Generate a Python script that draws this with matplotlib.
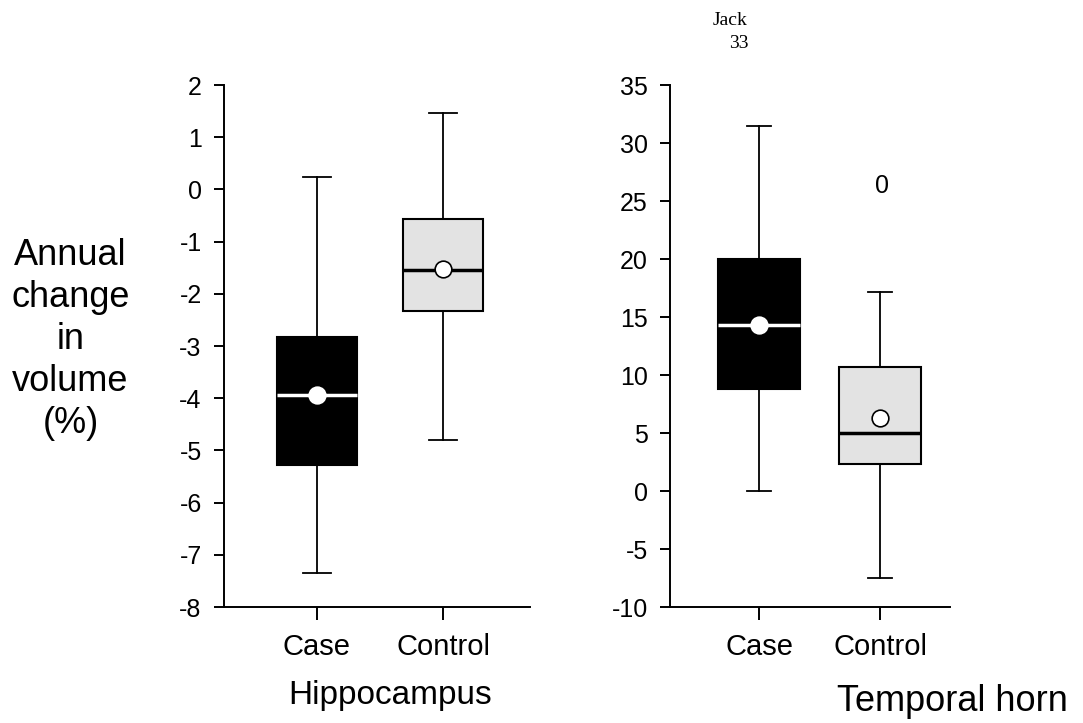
import matplotlib.pyplot as plt

plt.rcParams['font.family'] = ['Liberation Sans', 'DejaVu Sans']
plt.rcParams['axes.unicode_minus'] = False

# ---------------- data ----------------
groups = ['Case', 'Control']

# Hippocampus (annual change in volume, %)
hip_low = [-7.35, -4.8]
hip_q1 = [-5.27, -2.33]
hip_med = [-3.93, -1.55]
hip_q3 = [-2.83, -0.57]
hip_high = [0.23, 1.47]
hip_mean = [-3.93, -1.52]

# Temporal horn
th_low = [0.0, -7.5]
th_q1 = [8.8, 2.3]
th_med = [14.3, 5.0]
th_q3 = [20.0, 10.7]
th_high = [31.5, 17.2]
th_mean = [14.3, 6.3]
th_outlier_label = '0'
th_outlier_value = 26.3

box_colors = ['black', '#e3e3e3']
median_colors = ['white', 'black']


def make_stats(low, q1, med, q3, high, mean):
    stats = []
    for i in range(len(groups)):
        stats.append(dict(whislo=low[i], q1=q1[i], med=med[i], q3=q3[i],
                          whishi=high[i], mean=mean[i], fliers=[], label=groups[i]))
    return stats


def draw(ax, stats, width, capw):
    bp = ax.bxp(stats, positions=[1, 2], widths=width, patch_artist=True,
                showmeans=True, showfliers=False, capwidths=capw,
                boxprops=dict(linewidth=1.5, edgecolor='black'),
                whiskerprops=dict(linewidth=1.3),
                capprops=dict(linewidth=1.3),
                meanprops=dict(marker='o', markerfacecolor='white',
                               markeredgecolor='black', markersize=12, markeredgewidth=1.2))
    for i, b in enumerate(bp['boxes']):
        b.set_facecolor(box_colors[i])
    for i, m in enumerate(bp['medians']):
        m.set_color(median_colors[i])
        m.set_linewidth(2.5)
    bp['means'][0].set_markeredgecolor('white')
    for side in ['top', 'right']:
        ax.spines[side].set_visible(False)
    ax.spines['left'].set_linewidth(1.4)
    ax.spines['bottom'].set_linewidth(1.4)
    ax.tick_params(direction='out', length=7, width=1.4, labelsize=18, pad=9)
    ax.tick_params(axis='x', length=9, labelsize=21, pad=10)


fig = plt.figure(figsize=(10.83, 7.23), dpi=100)

ax1 = fig.add_axes([0.2068, 0.1604, 0.2826, 0.722])
draw(ax1, make_stats(hip_low, hip_q1, hip_med, hip_q3, hip_high, hip_mean), 0.635, 0.22)
ax1.set_xlim(0.262, 2.69)
ax1.set_ylim(-8, 2)
ax1.set_yticks(range(-8, 3))

ax2 = fig.add_axes([0.6187, 0.1604, 0.2585, 0.722])
draw(ax2, make_stats(th_low, th_q1, th_med, th_q3, th_high, th_mean), 0.68, 0.2)
ax2.set_xlim(0.264, 2.578)
ax2.set_ylim(-10, 35)
ax2.set_yticks(range(-10, 36, 5))
ax2.text(2.02, th_outlier_value, th_outlier_label, ha='center', va='center', fontsize=18)

fig.text(0.360, 0.038, 'Hippocampus', ha='center', va='center', fontsize=24)
fig.text(0.879, 0.0165, 'Temporal horn', ha='center', va='baseline', fontsize=26)
fig.text(0.065, 0.53, 'Annual\nchange\nin\nvolume\n(%)', ha='center', va='center',
         fontsize=26, linespacing=1.26)
fig.text(0.674, 0.972, 'Jack', ha='center', va='center', fontsize=14, family='Liberation Serif')
fig.text(0.682, 0.940, '33', ha='center', va='center', fontsize=14, family='Liberation Serif')

fig.savefig('out.png', dpi=100)
